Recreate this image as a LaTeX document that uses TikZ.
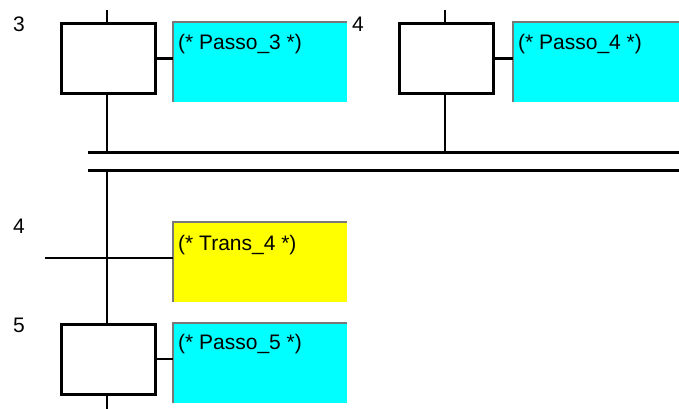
\documentclass[tikz,border=0pt]{standalone}
\usepackage{fontspec}
\setmainfont{Liberation Sans}
\definecolor{actcyan}{RGB}{0,255,255}
\definecolor{condyellow}{RGB}{255,255,0}
\definecolor{bevelgray}{RGB}{120,120,120}
\begin{document}
\begin{tikzpicture}[x=1pt,y=-1pt,
  stepbox/.style={draw=black,line width=3pt,fill=white,minimum width=94pt,minimum height=70pt,inner sep=0pt},
  actbox/.style={fill=#1,minimum width=174pt,minimum height=80pt,inner sep=0pt,anchor=north west},
  acttext/.style={anchor=base west,inner sep=0pt,font=\fontsize{21}{25}\selectfont},
  steplabel/.style={anchor=base,inner sep=0pt,font=\fontsize{21}{25}\selectfont},
  wire/.style={line width=2.8pt,draw=black},
  bevel/.style={draw=bevelgray,line width=1.6pt}
]
\useasboundingbox[fill=white] (0,0) rectangle (679,409);

% steps
\node[stepbox] (s3) at (108,58.5) {};
\node[stepbox] (s4) at (446.5,58.5) {};
\node[stepbox] (s5) at (108,359) {};

% step numbers
\node[steplabel] (n3) at (19,32) {3};
\node[steplabel] (n4) at (358,32) {4};
\node[steplabel] (n4t) at (19,233) {4};
\node[steplabel] (n5) at (19,332) {5};

% action and condition boxes
\node[actbox=actcyan] (a3) at (173,22) {};
\node[actbox=actcyan] (a4) at (513,22) {};
\node[actbox=condyellow] (at4) at (173,222) {};
\node[actbox=actcyan] (a5) at (173,323) {};
\foreach \b in {a3,a4,at4,a5}
  \draw[bevel] (\b.south west) -- (\b.north west) -- (\b.north east);

\node[acttext] (a3t) at (178,50) {(* Passo\_3 *)};
\node[acttext] (a4t) at (518,50) {(* Passo\_4 *)};
\node[acttext] (at4t) at (178,250) {(* Trans\_4 *)};
\node[acttext] (a5t) at (178,349) {(* Passo\_5 *)};

% links step -> action
\draw[line width=2.2pt] (s3.east) -- (s3.east -| a3.west);
\draw[line width=2.2pt] (s4.east) -- (s4.east -| a4.west);
\draw[line width=2.2pt] (s5.east) -- (s5.east -| a5.west);

% coordinates of the flow lines
\coordinate (t3) at (107,10);
\coordinate (t4) at (445,10);
\coordinate (j1l) at (88,152);
\coordinate (j1r) at (679,152);
\coordinate (j2l) at (88,170);
\coordinate (j2r) at (679,170);
\coordinate (tl) at (45,258);
\coordinate (bot) at (107,409);

% incoming stubs
\draw[wire] (t3) -- (t3 |- s3.north);
\draw[wire] (t4) -- (t4 |- s4.north);

% steps into the double line
\draw[wire] (t3 |- s3.south) -- (t3 |- j1l);
\draw[wire] (t4 |- s4.south) -- (t4 |- j1l);

% simultaneous convergence (double line)
\draw[line width=3pt] (j1l) -- (j1r);
\draw[line width=3pt] (j2l) -- (j2r);

% flow down to step 5 through transition 4
\draw[wire] (bot |- j2l) -- (bot |- s5.north);
\draw[wire] (tl) -- (tl -| at4.west);
\draw[wire] (bot |- s5.south) -- (bot);
\end{tikzpicture}
\end{document}
